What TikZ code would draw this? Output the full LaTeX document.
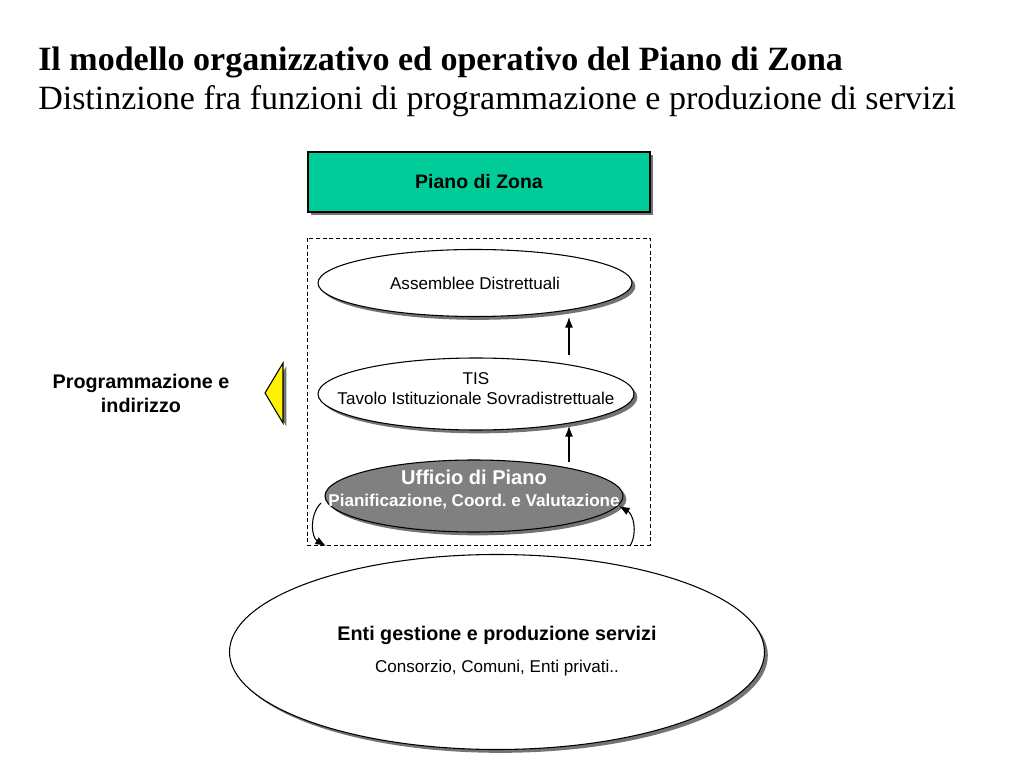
\documentclass[tikz,border=0pt]{standalone}
\usepackage{fontspec}
\setmainfont{Liberation Serif}
\setsansfont{Liberation Sans}
\usetikzlibrary{shapes.geometric,shadows,arrows.meta}
\definecolor{verdepiano}{RGB}{0,204,153}
\definecolor{grigioufficio}{RGB}{128,128,128}
\tikzset{
  ombra/.style={drop shadow={shadow xshift=2.5pt, shadow yshift=-2.5pt, fill=black!55, opacity=1}},
  ovale/.style={ellipse, draw, line width=0.8pt, fill=white, ombra, inner sep=0pt},
  testo/.style={align=center, font=\sffamily\fontsize{12.8}{15}\selectfont},
  freccia/.style={-{Latex[length=8pt,width=6pt]}, line width=0.8pt}
}
\frenchspacing
\begin{document}
\begin{tikzpicture}[x=0.75pt, y=0.75pt]
\useasboundingbox (0,0) rectangle (1024,768);
\node [anchor=base west, inner sep=0pt, font=\bfseries\fontsize{25.5}{30}\selectfont] (titolo) at (38, 697) {Il modello organizzativo ed operativo del Piano di Zona};
\node [anchor=base west, inner sep=0pt, font=\fontsize{25.5}{30}\selectfont] (sottotitolo) at (38, 658) {Distinzione fra funzioni di programmazione e produzione di servizi};
\node [draw, line width=0.8pt, fill=verdepiano, ombra, minimum width=256.5pt, minimum height=45pt,
  font=\sffamily\bfseries\fontsize{14.6}{17}\selectfont] (piano) at (479, 586) {Piano di Zona};
\node [draw, dashed, dash pattern=on 3pt off 2pt, line width=0.6pt, minimum width=257.25pt, minimum height=230.25pt] (box) at (478.5, 376.5) {};
\node [ovale, minimum width=235.5pt, minimum height=50.25pt,
  label={[testo]center:Assemblee Distrettuali}] (assemblee) at (475, 485) {};
\node [ovale, minimum width=237pt, minimum height=54pt,
  label={[testo, yshift=4pt]center:TIS\\Tavolo Istituzionale Sovradistrettuale}] (tis) at (476, 374) {};
\node [ovale, fill=grigioufficio, minimum width=223.5pt, minimum height=54pt,
  label={[testo, text=white, yshift=5pt, font=\sffamily\bfseries\fontsize{12.8}{16.5}\selectfont]center:{\fontsize{15}{16.5}\selectfont Ufficio di Piano}\\Pianificazione, Coord.\ e Valutazione}] (ufficio) at (474, 272) {};
\node [ovale, minimum width=401.25pt, minimum height=146.25pt,
  label={[testo, yshift=1pt]center:{\bfseries\fontsize{14.8}{17}\selectfont Enti gestione e produzione servizi}\\[9pt]Consorzio, Comuni, Enti privati..}] (enti) at (497, 116) {};
\node [align=center, font=\sffamily\bfseries\fontsize{14.8}{18}\selectfont] (prog) at (141, 375) {Programmazione e\\indirizzo};
\filldraw [fill=yellow, line width=0.8pt, ombra] (265, 375) -- (283, 405) -- (283, 345) -- cycle;
\coordinate (a1) at (569, 413);
\coordinate (a2) at (569, 451);
\coordinate (b1) at (569, 306);
\coordinate (b2) at (569, 342);
\coordinate (c1) at (321, 265);
\coordinate (c2) at (326, 222);
\coordinate (d1) at (630, 222);
\coordinate (d2) at (619, 262);
\draw [freccia] (a1) -- (a2);
\draw [freccia] (b1) -- (b2);
\draw [freccia, out=225, in=150] (c1) to (c2);
\draw [freccia, out=60, in=-30] (d1) to (d2);
\end{tikzpicture}
\end{document}
